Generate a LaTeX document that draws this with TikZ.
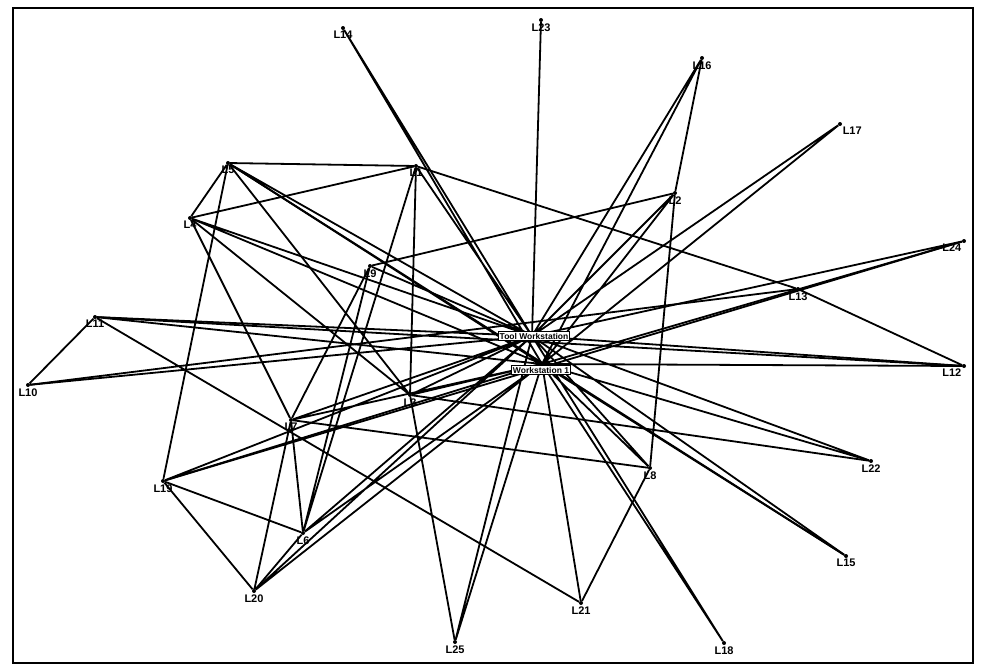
\documentclass[tikz,border=0pt]{standalone}
\usepackage{fontspec}
\setmainfont{Liberation Sans}
\usepackage{tikz}
\usetikzlibrary{positioning}

\begin{document}
\begin{tikzpicture}[
  x=1pt,y=-1pt,
  every node/.style={font=\fontsize{11}{12}\selectfont\bfseries},
  site/.style={circle,fill=black,inner sep=0pt,minimum size=4pt},
  lab/.style={inner sep=1pt,font=\fontsize{11}{12}\selectfont\bfseries},
  hub/.style={draw,line width=1pt,fill=white,inner sep=1pt,font=\fontsize{8.5}{9}\selectfont\bfseries},
  link/.style={line width=1.8pt}
]
\useasboundingbox (0,0) rectangle (981,667);
\fill[white] (0,0) rectangle (981,667);

% ---- outer sites ----
\node[site,label={[lab]below:L14}] (l14) at (343,28)  {};
\node[site,label={[lab]below:L23}] (l23) at (541,20)  {};
\node[site,label={[lab]below:L16}] (l16) at (702,58)  {};
\node[site,label={[lab]below right=0pt and -4pt:L17}] (l17) at (840,124) {};
\node[site,label={[lab]below left=2pt and -10pt:L24}] (l24) at (964,241) {};
\node[site,label={[lab]below:L13}] (l13) at (798,289) {};
\node[site,label={[lab]below left=2pt and -10pt:L12}] (l12) at (964,366) {};
\node[site,label={[lab]below:L22}] (l22) at (871,461) {};
\node[site,label={[lab]below:L15}] (l15) at (846,556) {};
\node[site,label={[lab]below:L18}] (l18) at (724,643) {};
\node[site,label={[lab]below:L21}] (l21) at (581,603) {};
\node[site,label={[lab]below:L25}] (l25) at (455,642) {};
\node[site,label={[lab]below:L20}] (l20) at (254,591) {};
\node[site,label={[lab]below:L19}] (l19) at (163,481) {};
\node[site,label={[lab]below:L10}] (l10) at (28,385)  {};
\node[site,label={[lab]below:L11}] (l11) at (95,317)  {};

% ---- inner sites ----
\node[site,label={[lab]below:L4}] (l4) at (190,218) {};
\node[site,label={[lab]below:L5}] (l5) at (228,163) {};
\node[site,label={[lab]below:L1}] (l1) at (416,166) {};
\node[site,label={[lab]below:L9}] (l9) at (370,266) {};
\node[site,label={[lab]below:L2}] (l2) at (675,193) {};
\node[site,label={[lab]below:L3}] (l3) at (410,395) {};
\node[site,label={[lab]below:L7}] (l7) at (291,420) {};
\node[site,label={[lab]below:L6}] (l6) at (303,533) {};
\node[site,label={[lab]below:L8}] (l8) at (650,468) {};

% ---- centre ----
\coordinate (c1) at (532,336);
\coordinate (c2) at (542,364);

% ---- links to centre ----
\draw[link] (l14) -- (c1) (l14) -- (c2) (l23) -- (c1) (l16) -- (c1) (l16) -- (c2)
            (l17) -- (c1) (l17) -- (c2) (l2) -- (c1) (l2) -- (c2)
            (l24) -- (c1) (l24) -- (c2) (l12) -- (c1) (l12) -- (c2)
            (l22) -- (c1) (l22) -- (c2) (l15) -- (c1) (l15) -- (c2)
            (l18) -- (c1) (l18) -- (c2) (l8) -- (c1) (l8) -- (c2)
            (l21) -- (c2) (l25) -- (c1) (l25) -- (c2)
            (l20) -- (c1) (l20) -- (c2) (l6) -- (c1) (l6) -- (c2)
            (l19) -- (c1) (l19) -- (c2) (l7) -- (c1) (l7) -- (c2)
            (l3) -- (c1) (l3) -- (c2) (l9) -- (c1)
            (l11) -- (c1) (l11) -- (c2) (l10) -- (c1)
            (l4) -- (c1) (l4) -- (c2) (l5) -- (c1) (l5) -- (c2) (l1) -- (c1);

% ---- links between sites ----
\draw[link] (l5) -- (l1) (l5) -- (l4) (l4) -- (l1) (l5) -- (l3) (l5) -- (l19)
            (l4) -- (l3) (l4) -- (l7) (l1) -- (l3) (l1) -- (l6) (l1) -- (l13)
            (l9) -- (l2) (l9) -- (l6) (l9) -- (l7) (l16) -- (l2) (l2) -- (l8)
            (l13) -- (l12) (l11) -- (l10) (l11) -- (l12) (l11) -- (l21)
            (l10) -- (l13) (l19) -- (l24) (l19) -- (l20) (l19) -- (l6)
            (l7) -- (l20) (l7) -- (l6) (l7) -- (l8) (l6) -- (l20)
            (l3) -- (l25) (l3) -- (l22) (l8) -- (l21) (l5) -- (l15);

% ---- centre labels ----
\node[hub] (ws1) at (534,336) {Tool Workstation};
\node[hub] (ws2) at (541,370) {Workstation 1};

% ---- frame ----
\draw[line width=2.5pt] (13,8) rectangle (973,663);
\end{tikzpicture}
\end{document}
